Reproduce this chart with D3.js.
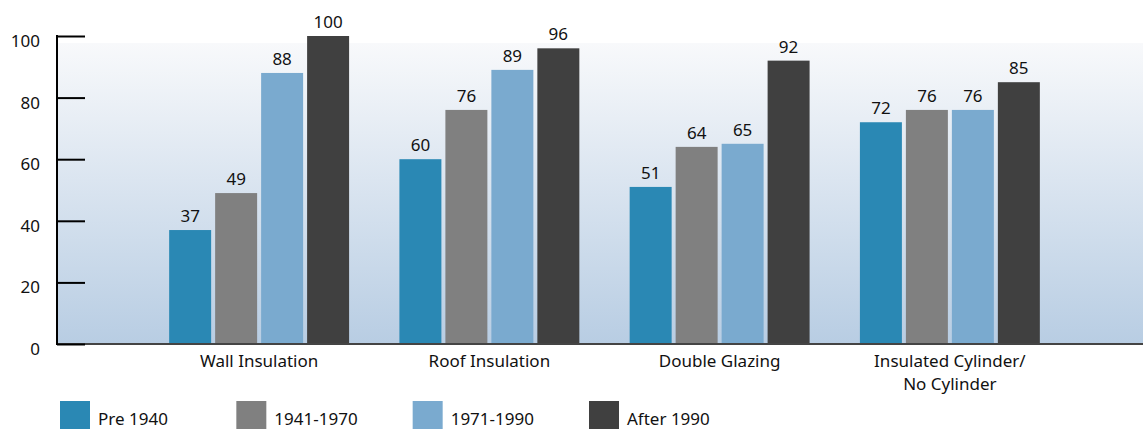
<!DOCTYPE html>
<html><head><meta charset="utf-8">
<script src="https://cdn.jsdelivr.net/npm/d3@7"></script>
<style>html,body{margin:0;padding:0;background:#fff;}svg{display:block;font-family:"Noto Sans",sans-serif;}</style>
</head><body>
<svg id="c" width="1143" height="429"></svg>
<script>
const categories = ["Wall Insulation","Roof Insulation","Double Glazing","Insulated Cylinder/\nNo Cylinder"];
const series = ["Pre 1940","1941-1970","1971-1990","After 1990"];
const pre1940 = [37,60,51,72];
const y1941_1970 = [49,76,64,76];
const y1971_1990 = [88,89,65,76];
const after1990 = [100,96,92,85];
const yTicks = [0,20,40,60,80,100];
const colors = ["#2a88b4","#808080","#7aaacf","#404040"];

const values = [pre1940,y1941_1970,y1971_1990,after1990];
const svg = d3.select("#c");
const mLeft = 57, mRight = 1143, mTop = 36, mBottom = 344;
const FS = 17;

const y = d3.scaleLinear().domain([0,100]).range([mBottom, mTop]);
const x0 = d3.scaleBand().domain(categories).range([144,1065]).paddingInner(0.2185).paddingOuter(0.10925);
const x1 = d3.scaleBand().domain(series).range([0,x0.bandwidth()]).paddingInner(4/46).paddingOuter(0);

const defs = svg.append("defs");
const g = defs.append("linearGradient").attr("id","bg").attr("x1",0).attr("y1",0).attr("x2",0).attr("y2",1);
g.append("stop").attr("offset","0%").attr("stop-color","#f8f9fb");
g.append("stop").attr("offset","100%").attr("stop-color","#b8cde3");
svg.append("rect").attr("x",mLeft).attr("y",43).attr("width",mRight-mLeft).attr("height",mBottom-43).attr("fill","url(#bg)");

// bars
const groups = svg.append("g").selectAll("g").data(categories).join("g")
  .attr("transform", d => `translate(${x0(d)},0)`);
groups.each(function(cat, ci){
  const gg = d3.select(this);
  const data = series.map((s, si) => ({s, si, v: values[si][ci]}));
  gg.selectAll("rect").data(data).join("rect")
    .attr("x", d => x1(d.s)).attr("y", d => y(d.v))
    .attr("width", x1.bandwidth()).attr("height", d => y(0) - y(d.v))
    .attr("fill", d => colors[d.si]);
  gg.selectAll("text").data(data).join("text")
    .attr("x", d => x1(d.s) + x1.bandwidth()/2).attr("y", d => y(d.v) - 8)
    .attr("text-anchor","middle").attr("font-size",FS).attr("fill","#111")
    .text(d => d.v);
});

// x axis line
svg.append("line").attr("x1",mLeft).attr("x2",mRight).attr("y1",mBottom).attr("y2",mBottom)
  .attr("stroke","#444").attr("stroke-width",2);

// y axis
const yAxis = d3.axisRight(y).tickValues(yTicks).tickSize(28).tickFormat("");
const ya = svg.append("g").attr("transform",`translate(${mLeft},0)`).call(yAxis);
ya.select(".domain").remove();
ya.selectAll(".tick line").attr("stroke","#000").attr("stroke-width",2);
svg.append("line").attr("x1",mLeft).attr("x2",mLeft).attr("y1",mTop-1).attr("y2",mBottom+1)
  .attr("stroke","#000").attr("stroke-width",2);
svg.append("g").selectAll("text").data(yTicks).join("text")
  .attr("x",40).attr("y",d => y(d)+11).attr("text-anchor","end")
  .attr("font-size",FS).attr("fill","#111").text(d => d);

// category labels
svg.append("g").selectAll("text").data(categories).join("text")
  .attr("x", d => x0(d) + x0.bandwidth()/2).attr("y", 367)
  .attr("text-anchor","middle").attr("font-size",FS).attr("fill","#111")
  .each(function(d){
    const t = d3.select(this);
    d.split("\n").forEach((line,i) => {
      t.append("tspan").attr("x", x0(d) + x0.bandwidth()/2).attr("dy", i===0 ? 0 : 23).text(line);
    });
  });

// legend
const lx = d3.scalePoint().domain(series).range([60,589]);
const leg = svg.append("g").selectAll("g").data(series).join("g")
  .attr("transform", d => `translate(${lx(d)},401)`);
leg.append("rect").attr("width",30).attr("height",30).attr("fill",(d,i)=>colors[i]);
leg.append("text").attr("x",38).attr("y",24).attr("font-size",FS).attr("fill","#111").text(d=>d);
</script>
</body></html>
